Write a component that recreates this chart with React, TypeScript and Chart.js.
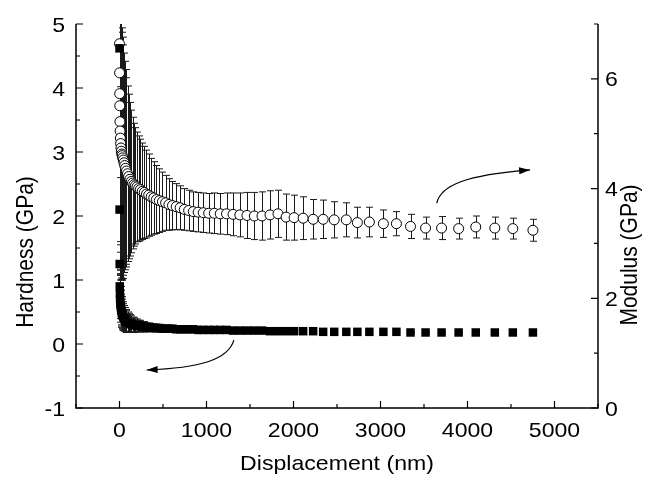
import React, { useEffect, useRef } from 'react';
import { Chart, registerables } from 'chart.js';

Chart.register(...registerables);

// Displacement (nm)
const displacement = [
  0, 1, 2, 3, 5, 7, 10, 13, 17, 21,
  26, 31, 37, 44, 52, 60, 70, 80, 92, 105,
  120, 135, 150, 166, 183, 201, 220, 240, 262, 285,
  310, 336, 364, 394, 425, 458, 493, 530, 568, 609,
  652, 697, 745, 795, 848, 904, 963, 1025, 1090, 1158,
  1230, 1305, 1383, 1465, 1550, 1638, 1730, 1822, 1915, 2007,
  2111, 2226, 2341, 2468, 2607, 2734, 2872, 3033, 3183, 3345,
  3518, 3702, 3898, 4095, 4314, 4521, 4752,
];

// Hardness (GPa), left axis
const hardness = [
  4.62, 2.1, 1.25, 0.9, 0.78, 0.7, 0.64, 0.6, 0.56, 0.52,
  0.49, 0.46, 0.44, 0.42, 0.4, 0.38, 0.36, 0.35, 0.34, 0.33,
  0.32, 0.31, 0.3, 0.3, 0.29, 0.29, 0.28, 0.28, 0.27, 0.27,
  0.26, 0.26, 0.26, 0.25, 0.25, 0.25, 0.24, 0.24, 0.24, 0.24,
  0.23, 0.23, 0.23, 0.23, 0.23, 0.22, 0.22, 0.22, 0.22, 0.22,
  0.22, 0.21, 0.21, 0.21, 0.21, 0.21, 0.2, 0.2, 0.2, 0.2,
  0.2, 0.2, 0.19, 0.19, 0.19, 0.19, 0.19, 0.19, 0.19, 0.18,
  0.18, 0.18, 0.18, 0.18, 0.18, 0.18, 0.18,
];
const hardnessErr = [
  0.6, 0.5, 0.3, 0.3, 0.3, 0.3, 0.3, 0.3, 0.28, 0.26,
  0.25, 0.24, 0.22, 0.21, 0.2, 0.19, 0.18, 0.17, 0.16, 0.15,
  0.14, 0.13, 0.12, 0.11, 0.1, 0.1, 0.09, 0.09, 0.08, 0.08,
  0.07, 0.07, 0.06, 0.06, 0.06, 0.05, 0.05, 0.05, 0.04, 0.04,
  0.04, 0.04, 0.03, 0.03, 0.03, 0.03, 0.03, 0.03, 0.02, 0.02,
  0.02, 0.02, 0.02, 0.02, 0.02, 0.02, 0.02, 0.02, 0.02, 0.02,
  0.02, 0.02, 0.02, 0.02, 0.02, 0.02, 0.01, 0.01, 0.01, 0.01,
  0.01, 0.01, 0.01, 0.01, 0.01, 0.01, 0.01,
];

// Modulus (GPa), right axis
const modulus = [
  6.64, 6.11, 5.73, 5.51, 5.22, 5.05, 4.92, 4.82, 4.74, 4.68,
  4.63, 4.6, 4.56, 4.52, 4.47, 4.42, 4.37, 4.32, 4.27, 4.22,
  4.17, 4.13, 4.1, 4.07, 4.05, 4.03, 4.0, 3.98, 3.95, 3.93,
  3.9, 3.88, 3.85, 3.83, 3.8, 3.78, 3.76, 3.74, 3.71, 3.69,
  3.67, 3.65, 3.62, 3.6, 3.58, 3.57, 3.56, 3.55, 3.55, 3.54,
  3.54, 3.53, 3.52, 3.51, 3.5, 3.5, 3.52, 3.54, 3.48, 3.47,
  3.46, 3.44, 3.44, 3.43, 3.43, 3.38, 3.39, 3.36, 3.36, 3.31,
  3.28, 3.28, 3.27, 3.3, 3.28, 3.27, 3.24,
];
const modulusErr = [
  3.8, 3.5, 3.2, 3.0, 2.8, 2.6, 2.5, 2.45, 2.4, 2.35,
  2.3, 2.25, 2.2, 2.1, 2.0, 1.9, 1.8, 1.7, 1.6, 1.5,
  1.4, 1.3, 1.2, 1.12, 1.06, 1.0, 0.96, 0.92, 0.88, 0.84,
  0.8, 0.75, 0.7, 0.66, 0.62, 0.58, 0.54, 0.5, 0.47, 0.44,
  0.42, 0.4, 0.38, 0.37, 0.36, 0.36, 0.36, 0.36, 0.37, 0.37,
  0.38, 0.39, 0.4, 0.42, 0.43, 0.44, 0.44, 0.43, 0.42, 0.41,
  0.39, 0.36, 0.35, 0.33, 0.31, 0.28, 0.27, 0.25, 0.22, 0.22,
  0.2, 0.21, 0.19, 0.2, 0.2, 0.19, 0.2,
];

const xTicks = [0, 1000, 2000, 3000, 4000, 5000];
const xMinorTicks = [-500, 500, 1500, 2500, 3500, 4500, 5500];
const hardnessTicks = [-1, 0, 1, 2, 3, 4, 5];
const hardnessMinorTicks = [-0.5, 0.5, 1.5, 2.5, 3.5, 4.5];
const modulusTicks = [0, 2, 4, 6];
const modulusMinorTicks = [1, 3, 5, 7];

// Annotation arrows in (displacement, hardness) units: start, ctrl1, ctrl2, end
const modulusArrow = [[3646, 2.2], [3692, 2.48], [3981, 2.64], [4719, 2.72]];
const hardnessArrow = [[1315, 0.06], [1246, -0.25], [923, -0.375], [312, -0.406]];

const FONT = '"Liberation Sans", Arial, Helvetica, sans-serif';
const TICK_SIZE = 21;
const TITLE_SIZE = 21;
const STRETCH = 1.1;

const errorBars = {
  id: 'errorBars',
  beforeDatasetsDraw(chart: any) {
    const { ctx, chartArea, scales } = chart;
    ctx.save();
    ctx.beginPath();
    ctx.rect(chartArea.left, chartArea.top, chartArea.right - chartArea.left, chartArea.bottom - chartArea.top);
    ctx.clip();
    ctx.strokeStyle = '#1a1a1a';
    ctx.lineWidth = 1;
    chart.data.datasets.forEach((ds: any) => {
      const ys = scales[ds.yAxisID];
      ds.data.forEach((p: any, j: number) => {
        const e = ds.errors[j];
        const px = Math.round(scales.x.getPixelForValue(p.x)) + 0.5;
        const top = ys.getPixelForValue(p.y + e);
        const bot = ys.getPixelForValue(p.y - e);
        ctx.beginPath();
        ctx.moveTo(px, top);
        ctx.lineTo(px, bot);
        ctx.moveTo(px - 3.5, top);
        ctx.lineTo(px + 3.5, top);
        ctx.moveTo(px - 3.5, bot);
        ctx.lineTo(px + 3.5, bot);
        ctx.stroke();
      });
    });
    ctx.restore();
  },
};

function stretchedText(ctx: any, text: string, x: number, y: number, align: string, rotate = false) {
  ctx.save();
  ctx.translate(x, y);
  ctx.scale(STRETCH, 1);
  if (rotate) ctx.rotate(-Math.PI / 2);
  ctx.textAlign = align;
  ctx.fillText(text, 0, 0);
  ctx.restore();
}

const frame = {
  id: 'frame',
  afterDraw(chart: any) {
    const { ctx, chartArea, scales } = chart;
    const { left, right, top, bottom } = chartArea;
    const x = scales.x, y = scales.y, y1 = scales.y1;
    ctx.save();
    ctx.strokeStyle = '#000';
    ctx.lineWidth = 1.5;
    ctx.beginPath();
    ctx.moveTo(left, top);
    ctx.lineTo(left, bottom);
    ctx.lineTo(right, bottom);
    ctx.lineTo(right, top);
    ctx.stroke();

    ctx.lineWidth = 1.2;
    ctx.beginPath();
    xTicks.forEach((v) => { const p = x.getPixelForValue(v); ctx.moveTo(p, bottom); ctx.lineTo(p, bottom - 7); });
    xMinorTicks.forEach((v) => { const p = x.getPixelForValue(v); ctx.moveTo(p, bottom); ctx.lineTo(p, bottom - 4); });
    hardnessTicks.forEach((v) => { const p = y.getPixelForValue(v); ctx.moveTo(left, p); ctx.lineTo(left + 7, p); });
    hardnessMinorTicks.forEach((v) => { const p = y.getPixelForValue(v); ctx.moveTo(left, p); ctx.lineTo(left + 4, p); });
    modulusTicks.forEach((v) => { const p = y1.getPixelForValue(v); ctx.moveTo(right, p); ctx.lineTo(right - 7, p); });
    modulusMinorTicks.forEach((v) => { const p = y1.getPixelForValue(v); ctx.moveTo(right, p); ctx.lineTo(right - 4, p); });
    ctx.stroke();

    // arrows
    const drawArrow = (pts: number[][]) => {
      const P = pts.map(([a, b]) => [x.getPixelForValue(a), y.getPixelForValue(b)]);
      ctx.lineWidth = 1.2;
      ctx.beginPath();
      ctx.moveTo(P[0][0], P[0][1]);
      ctx.bezierCurveTo(P[1][0], P[1][1], P[2][0], P[2][1], P[3][0], P[3][1]);
      ctx.stroke();
      const ang = Math.atan2(P[3][1] - P[2][1], P[3][0] - P[2][0]);
      const L = 11, W = 3.5;
      const tx = P[3][0], ty = P[3][1];
      const bx = tx - L * Math.cos(ang), by = ty - L * Math.sin(ang);
      ctx.beginPath();
      ctx.moveTo(tx, ty);
      ctx.lineTo(bx + W * Math.sin(ang), by - W * Math.cos(ang));
      ctx.lineTo(bx - W * Math.sin(ang), by + W * Math.cos(ang));
      ctx.closePath();
      ctx.fillStyle = '#000';
      ctx.fill();
    };
    drawArrow(modulusArrow);
    drawArrow(hardnessArrow);

    // tick labels
    ctx.fillStyle = '#000';
    ctx.font = `${TICK_SIZE}px ${FONT}`;
    ctx.textBaseline = 'alphabetic';
    xTicks.forEach((v) => stretchedText(ctx, String(v), x.getPixelForValue(v), bottom + 29, 'center'));
    hardnessTicks.forEach((v) => stretchedText(ctx, String(v), left - 11, y.getPixelForValue(v) + 7.5, 'right'));
    modulusTicks.forEach((v) => stretchedText(ctx, String(v), right + 7, y1.getPixelForValue(v) + 7.5, 'left'));

    // titles
    ctx.font = `${TITLE_SIZE}px ${FONT}`;
    ctx.textBaseline = 'middle';
    stretchedText(ctx, 'Displacement (nm)', (left + right) / 2, 464, 'center');
    stretchedText(ctx, 'Hardness (GPa)', 27, 252, 'center', true);
    stretchedText(ctx, 'Modulus (GPa)', 631, 255, 'center', true);
    ctx.restore();
  },
};

export default function App() {
  const ref = useRef<HTMLCanvasElement | null>(null);
  useEffect(() => {
    document.body.style.margin = '0';
    const canvas = ref.current;
    if (!canvas) return;
    const chart = new Chart(canvas, {
      type: 'scatter',
      data: {
        datasets: [
          {
            label: 'Hardness',
            data: displacement.map((d, i) => ({ x: d, y: hardness[i] })),
            errors: hardnessErr,
            yAxisID: 'y',
            pointStyle: 'rect',
            pointRadius: 6,
            pointBackgroundColor: '#000',
            pointBorderColor: '#000',
            pointBorderWidth: 0,
            showLine: false,
          } as any,
          {
            label: 'Modulus',
            data: displacement.map((d, i) => ({ x: d, y: modulus[i] })),
            errors: modulusErr,
            yAxisID: 'y1',
            pointStyle: 'circle',
            pointRadius: 5,
            pointBackgroundColor: '#fff',
            pointBorderColor: '#000',
            pointBorderWidth: 1,
            showLine: false,
          } as any,
        ],
      },
      options: {
        animation: false,
        responsive: false,
        maintainAspectRatio: false,
        devicePixelRatio: 1,
        layout: { padding: { top: 24, left: 0, right: 0, bottom: 0 } },
        plugins: { legend: { display: false }, tooltip: { enabled: false }, title: { display: false } },
        events: [],
        scales: {
          x: {
            type: 'linear',
            position: 'bottom',
            min: -500,
            max: 5500,
            grid: { display: false, drawTicks: false },
            border: { display: false },
            ticks: { display: false },
            afterBuildTicks: (s: any) => { s.ticks = xTicks.map((v) => ({ value: v })); },
            afterFit: (s: any) => { s.height = 72; },
          },
          y: {
            type: 'linear',
            position: 'left',
            min: -1,
            max: 5,
            grid: { display: false, drawTicks: false },
            border: { display: false },
            ticks: { display: false },
            afterBuildTicks: (s: any) => { s.ticks = hardnessTicks.map((v) => ({ value: v })); },
            afterFit: (s: any) => { s.width = 76; },
          },
          y1: {
            type: 'linear',
            position: 'right',
            min: 0,
            max: 7,
            grid: { display: false, drawTicks: false },
            border: { display: false },
            ticks: { display: false },
            afterBuildTicks: (s: any) => { s.ticks = modulusTicks.map((v) => ({ value: v })); },
            afterFit: (s: any) => { s.width = 53; },
          },
        },
      } as any,
      plugins: [errorBars, frame],
    });
    return () => chart.destroy();
  }, []);
  return (
    <div style={{ position: 'absolute', left: 0, top: 0, width: 651, height: 480, background: '#fff' }}>
      <canvas ref={ref} width={651} height={480} style={{ width: 651, height: 480 }} />
    </div>
  );
}
